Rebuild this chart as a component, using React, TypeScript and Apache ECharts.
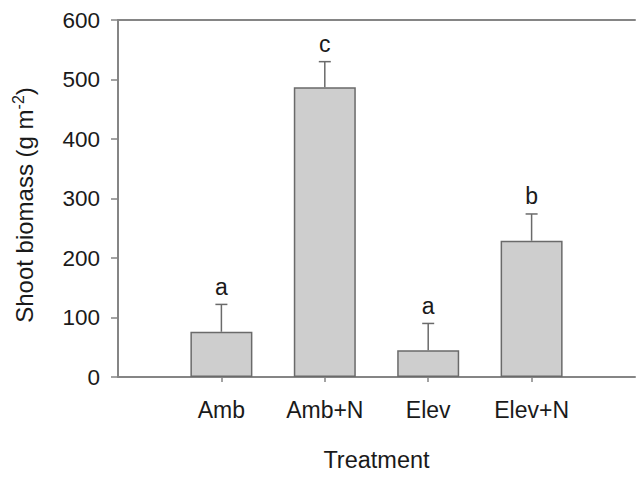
import React, { useEffect, useRef } from "react";
import * as echarts from "echarts";

const categories = ["Amb", "Amb+N", "Elev", "Elev+N"];
const means = [76, 487, 45, 229];
const upperErrors = [46, 43, 45, 45];
const letters = ["a", "c", "a", "b"];
const yTicks = { min: 0, max: 600, interval: 100 };

const FONT = "'Liberation Sans', Arial, sans-serif";
const TEXT = "#1a1a1a";
const AXIS = "#858585";

export default function App() {
  const ref = useRef<HTMLDivElement>(null);
  useEffect(() => {
    if (!ref.current) return;
    const chart = echarts.init(ref.current, undefined, { renderer: "svg" });
    const padded = ["", ...categories, ""];
    const barData = ["-", ...means, "-"];
    const errData = categories.map((c, i) => [i + 1, means[i], upperErrors[i]]);

    chart.setOption({
      animation: false,
      backgroundColor: "#ffffff",
      grid: { left: 118, right: -4, top: 20, bottom: 91, containLabel: false },
      xAxis: [
        {
          type: "category",
          data: padded,
          boundaryGap: false,
          axisLine: { lineStyle: { color: AXIS, width: 2 } },
          axisTick: {
            show: true,
            length: 5,
            interval: (idx: number, val: string) => val !== "",
            lineStyle: { color: AXIS, width: 1.5 },
          },
          axisLabel: {
            interval: 0,
            margin: 21,
            fontSize: 23,
            fontFamily: FONT,
            color: TEXT,
          },
          name: "Treatment",
          nameLocation: "middle",
          nameGap: 71,
          nameTextStyle: { fontSize: 23.5, fontFamily: FONT, color: TEXT },
          splitLine: { show: false },
        },
        {
          type: "category",
          data: padded,
          position: "top",
          boundaryGap: false,
          axisLine: { lineStyle: { color: AXIS, width: 2 } },
          axisTick: { show: false },
          axisLabel: { show: false },
        },
      ],
      yAxis: {
        type: "value",
        min: yTicks.min,
        max: yTicks.max,
        interval: yTicks.interval,
        axisLine: { show: true, lineStyle: { color: AXIS, width: 2 } },
        axisTick: { show: true, length: 7, lineStyle: { color: AXIS, width: 1.5 } },
        axisLabel: { margin: 18, fontSize: 22.5, fontFamily: FONT, color: TEXT },
        splitLine: { show: false },
      },
      graphic: [
        {
          type: "text",
          x: 24,
          y: 205,
          rotation: Math.PI / 2,
          style: {
            text: "{n|Shoot biomass (g m}{s|-2}{n|)}",
            align: "center",
            verticalAlign: "middle",
            fill: TEXT,
            rich: {
              n: { fontSize: 24, fontFamily: FONT, fill: TEXT, lineHeight: 28 },
              s: { fontSize: 16, fontFamily: FONT, fill: TEXT, verticalAlign: "top", lineHeight: 28 },
            },
          },
        },
      ],
      series: [
        {
          type: "bar",
          data: barData,
          barWidth: 62,
          itemStyle: { color: "#cecece", borderColor: "#6a6a6a", borderWidth: 1.5 },
          z: 2,
        },
        {
          type: "custom",
          data: errData,
          z: 3,
          renderItem: (params: any, api: any) => {
            const x = api.value(0);
            const m = api.value(1);
            const e = api.value(2);
            const base = api.coord([x, m]);
            const top = api.coord([x, m + e]);
            const capHalf = 6;
            return {
              type: "group",
              children: [
                {
                  type: "line",
                  shape: { x1: base[0], y1: base[1], x2: top[0], y2: top[1] },
                  style: { stroke: "#6a6a6a", lineWidth: 1.5 },
                },
                {
                  type: "line",
                  shape: { x1: top[0] - capHalf, y1: top[1], x2: top[0] + capHalf, y2: top[1] },
                  style: { stroke: "#6a6a6a", lineWidth: 1.5 },
                },
                {
                  type: "text",
                  x: top[0],
                  y: top[1] - 6,
                  style: {
                    text: letters[params.dataIndex],
                    align: "center",
                    verticalAlign: "bottom",
                    fontSize: 23,
                    fontFamily: FONT,
                    fill: TEXT,
                  },
                },
              ],
            };
          },
        },
      ],
    });
    return () => chart.dispose();
  }, []);
  return <div ref={ref} style={{ width: 638, height: 477, position: "absolute", left: 0, top: 0 }} />;
}
